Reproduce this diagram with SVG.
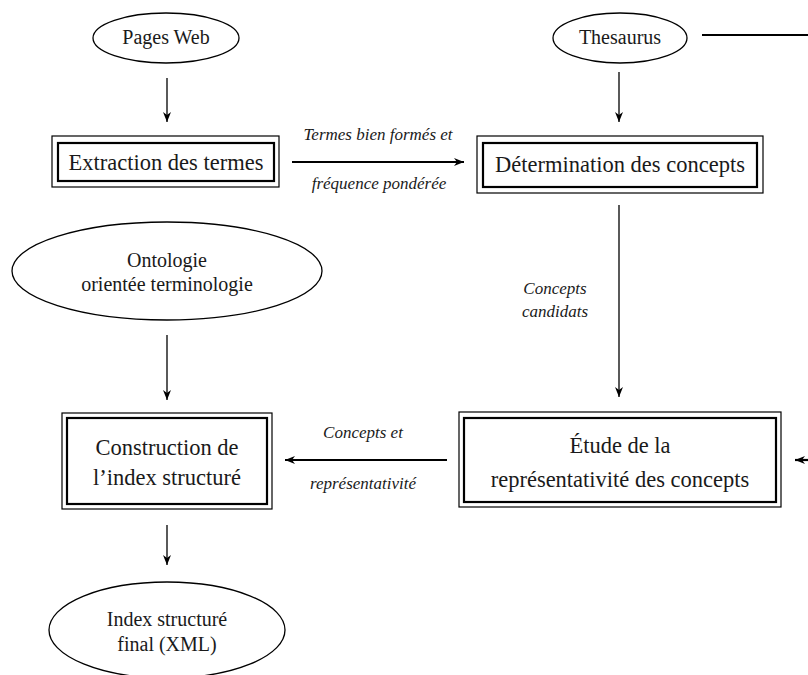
<svg xmlns="http://www.w3.org/2000/svg" width="808" height="675" viewBox="0 0 808 675">
<defs>
<style>
.bg{fill:#fff}
.ell{fill:#fff;stroke:#000;stroke-width:1.3}
.outer{fill:#fff;stroke:#000;stroke-width:1.2}
.inner{fill:none;stroke:#000;stroke-width:2.2}
.t{font-family:"Liberation Serif","Times New Roman",serif;fill:#1a1a1a;text-anchor:middle}
.e{font-size:20px}
.b{font-size:22.5px}
.l{font-size:17px;font-style:italic}
.thin{stroke:#000;stroke-width:1.3;fill:none}
.thick{stroke:#000;stroke-width:2.2;fill:none}
</style>
<marker id="ah" viewBox="0 0 10 10" refX="10" refY="5" markerWidth="10" markerHeight="10" markerUnits="userSpaceOnUse" orient="auto">
<path d="M0,1 L10,5 L0,9 L3,5 z" fill="#000"/>
</marker>
</defs>
<rect class="bg" x="0" y="0" width="808" height="675"/>

<g id="connectors">
<line class="thin" x1="167" y1="78" x2="167" y2="122" marker-end="url(#ah)"/>
<line class="thin" x1="619" y1="72" x2="619" y2="122" marker-end="url(#ah)"/>
<line class="thick" x1="292" y1="162" x2="464" y2="162" marker-end="url(#ah)"/>
<line class="thick" x1="702" y1="35" x2="808" y2="35"/>
<line class="thin" x1="619" y1="205" x2="619" y2="397" marker-end="url(#ah)"/>
<line class="thin" x1="167" y1="335" x2="167" y2="400" marker-end="url(#ah)"/>
<line class="thick" x1="447" y1="460" x2="285" y2="460" marker-end="url(#ah)"/>
<line class="thick" x1="808" y1="460" x2="795" y2="460" marker-end="url(#ah)"/>
<line class="thin" x1="167" y1="525" x2="167" y2="565" marker-end="url(#ah)"/>
<text class="t l" x="378" y="140">Termes bien formés et</text>
<text class="t l" x="379" y="189">fréquence pondérée</text>
<text class="t l" x="555" y="294">Concepts</text>
<text class="t l" x="555" y="317">candidats</text>
<text class="t l" x="363" y="438">Concepts et</text>
<text class="t l" x="363" y="489">représentativité</text>
</g>

<g id="pages-web">
<ellipse class="ell" cx="166" cy="38" rx="73" ry="25"/>
<text class="t e" x="166" y="44">Pages Web</text>
</g>

<g id="thesaurus">
<ellipse class="ell" cx="620" cy="38" rx="67" ry="25"/>
<text class="t e" x="620" y="44">Thesaurus</text>
</g>

<g id="extraction">
<rect class="outer" x="52" y="136" width="227" height="51"/>
<rect class="inner" x="58" y="143" width="216" height="38"/>
<text class="t b" x="166" y="170">Extraction des termes</text>
</g>

<g id="determination">
<rect class="outer" x="477" y="136" width="286" height="57"/>
<rect class="inner" x="483" y="143" width="274" height="44"/>
<text class="t b" x="620" y="172">Détermination des concepts</text>
</g>

<g id="ontologie">
<ellipse class="ell" cx="167" cy="271" rx="155" ry="49"/>
<text class="t e" x="167" y="267">Ontologie</text>
<text class="t e" x="167" y="291">orientée terminologie</text>
</g>

<g id="construction">
<rect class="outer" x="62" y="413" width="210" height="96"/>
<rect class="inner" x="67" y="418" width="200" height="86"/>
<text class="t b" x="167" y="455">Construction de</text>
<text class="t b" x="167" y="485">l’index structuré</text>
</g>

<g id="etude">
<rect class="outer" x="459" y="412" width="322" height="95"/>
<rect class="inner" x="464" y="418" width="312" height="84"/>
<text class="t b" x="620" y="453">Étude de la</text>
<text class="t b" x="620" y="487">représentativité des concepts</text>
</g>

<g id="index-final">
<ellipse class="ell" cx="167" cy="630" rx="118" ry="48"/>
<text class="t e" x="167" y="626">Index structuré</text>
<text class="t e" x="167" y="651">final (XML)</text>
</g>
</svg>
